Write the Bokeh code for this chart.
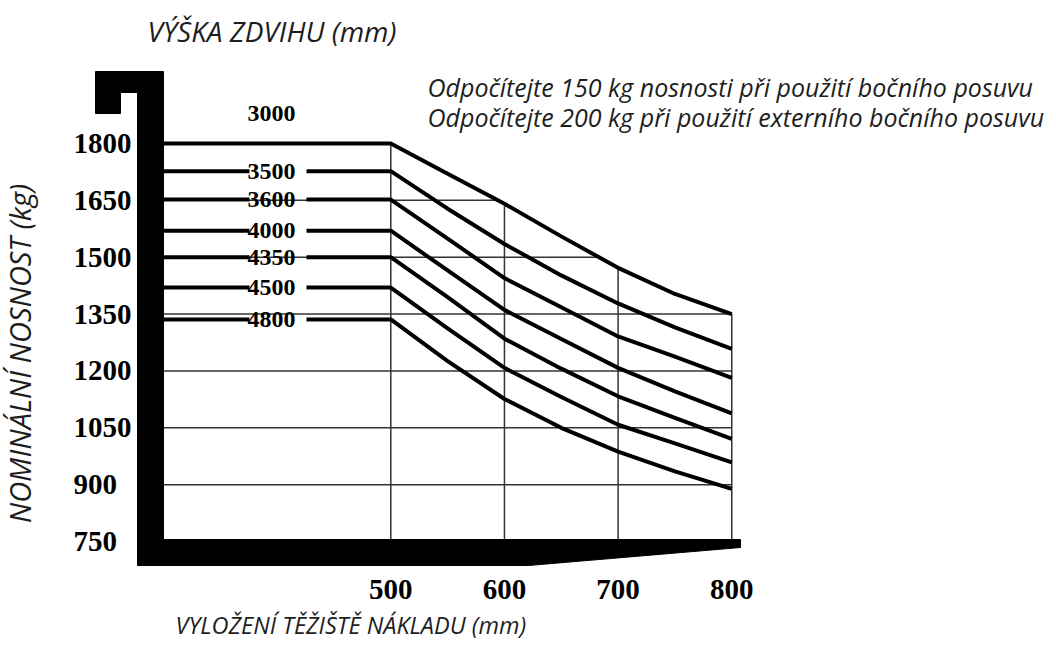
import numpy as np
from bokeh.plotting import figure
from bokeh.models import Range1d
from bokeh.core.properties import value
from bokeh.embed import file_html
from bokeh.resources import INLINE

# ---------------- data ----------------
load_centre = [500, 550, 600, 650, 700, 750, 800]          # mm
lift_heights = ["3000", "3500", "3600", "4000", "4350", "4500", "4800"]
cap_3000 = [1800, 1720, 1641, 1555, 1472, 1403, 1350]
cap_3500 = [1727, 1628, 1535, 1452, 1378, 1315, 1258]
cap_3600 = [1652, 1549, 1445, 1368, 1291, 1238, 1182]
cap_4000 = [1570, 1465, 1361, 1284, 1208, 1146, 1088]
cap_4350 = [1500, 1395, 1285, 1206, 1133, 1076, 1021]
cap_4500 = [1420, 1312, 1208, 1131, 1058, 1009, 959]
cap_4800 = [1336, 1226, 1126, 1050, 987, 935, 889]
series = [cap_3000, cap_3500, cap_3600, cap_4000, cap_4350, cap_4500, cap_4800]

y_ticks = [750, 900, 1050, 1200, 1350, 1500, 1650, 1800]
x_ticks = [500, 600, 700, 800]
x_origin = 300   # mast face

title_top = "VÝŠKA ZDVIHU (mm)"
title_bottom = "VYLOŽENÍ TĚŽIŠTĚ NÁKLADU (mm)"
title_left = "NOMINÁLNÍ NOSNOST (kg)"
note_1 = "Odpočítejte 150 kg nosnosti při použití bočního posuvu"
note_2 = "Odpočítejte 200 kg při použití externího bočního posuvu"

# ---------------- page-pixel -> data mapping ----------------
W, H = 1052, 650
SX = 1.1365      # px per mm
SY = 0.37905     # px per kg
X0 = 300 - 163 / SX
Y1 = 1800 + 143 / SY
def X(px):
    return X0 + px / SX
def Y(py):
    return Y1 - py / SY

p = figure(width=W, height=H, output_backend="svg", toolbar_location=None,
           x_range=Range1d(X0, X0 + W / SX), y_range=Range1d(Y1 - H / SY, Y1),
           x_axis_location=None, y_axis_location=None, min_border=0)
p.grid.visible = False
p.outline_line_color = None
p.background_fill_color = "white"
p.border_fill_color = "white"

top = np.array(series[0], dtype=float)
xc = np.array(load_centre, dtype=float)

# ---------------- grid (clipped under the envelope) ----------------
gx0, gy0, gx1, gy1 = [], [], [], []
for t in x_ticks:
    gx0.append(t); gx1.append(t)
    gy0.append(Y(539)); gy1.append(float(np.interp(t, xc, top)))
for t in y_ticks[1:-1]:
    if t <= top[-1]:
        xe = load_centre[-1]
    else:
        xe = float(np.interp(t, top[::-1], xc[::-1]))
    gx0.append(x_origin); gx1.append(xe)
    gy0.append(t); gy1.append(t)
p.segment(gx0, gy0, gx1, gy1, line_color="#333333", line_width=1.5)

# ---------------- capacity curves ----------------
gap_l, gap_r = X(249), X(306)
xs, ys = [], []
for i, s in enumerate(series):
    if i == 0:
        xs.append([x_origin] + load_centre)
        ys.append([s[0]] + s)
    else:
        xs.append([x_origin, gap_l]); ys.append([s[0], s[0]])
        xs.append([gap_r] + load_centre); ys.append([s[0]] + s)
p.multi_line(xs, ys, line_color="black", line_width=4, line_join="round")

# ---------------- mast + fork silhouette ----------------
mast_px = [(95, 71), (163, 71), (163, 539), (740, 539), (740, 547), (528, 565),
           (137, 565), (137, 92), (120, 92), (120, 113), (95, 113)]
p.patch([X(a) for a, b in mast_px], [Y(b) for a, b in mast_px],
        fill_color="black", line_color="black", line_width=1)

# ---------------- lift height labels ----------------
lab_x = [X(271)] * len(series)
lab_y = [s[0] for s in series]
lab_y[0] = Y(113)
p.text(lab_x, lab_y, text=lift_heights, text_font=value("Liberation Serif"),
       text_font_style="bold", text_font_size="24px", text_align="center",
       text_baseline="middle", text_color="black")

# ---------------- tick labels ----------------
num_font = value("Liberation Serif")
p.text([X(73)] * len(y_ticks), y_ticks, text=[str(v) for v in y_ticks],
       text_font=num_font, text_font_style="bold", text_font_size="29px",
       text_align="left", text_baseline="middle", text_color="black")
p.text(x_ticks, [Y(589)] * len(x_ticks), text=[str(v) for v in x_ticks],
       text_font=num_font, text_font_style="bold", text_font_size="29px",
       text_align="center", text_baseline="middle", text_color="black")

# ---------------- titles and notes ----------------
tf = value("Open Sans")
p.text([X(147)], [Y(30)], text=[title_top], text_font=tf, text_font_style="italic",
       text_font_size="28px", text_align="left", text_baseline="middle", text_color="#1e1e1e")
p.text([X(175)], [Y(624)], text=[title_bottom], text_font=tf, text_font_style="italic",
       text_font_size="23.5px", text_align="left", text_baseline="middle", text_color="#1e1e1e")
p.text([X(427), X(427)], [Y(86), Y(116)], text=[note_1, note_2], text_font=tf,
       text_font_style="italic", text_font_size="25px", text_align="left",
       text_baseline="middle", text_color="#1e1e1e")
p.text([X(19)], [Y(353)], text=[title_left], text_font=tf, text_font_style="italic",
       text_font_size="29px", text_align="center", text_baseline="middle",
       angle=np.pi / 2, text_color="#1e1e1e")

open("out.html", "w").write(file_html(p, INLINE))
